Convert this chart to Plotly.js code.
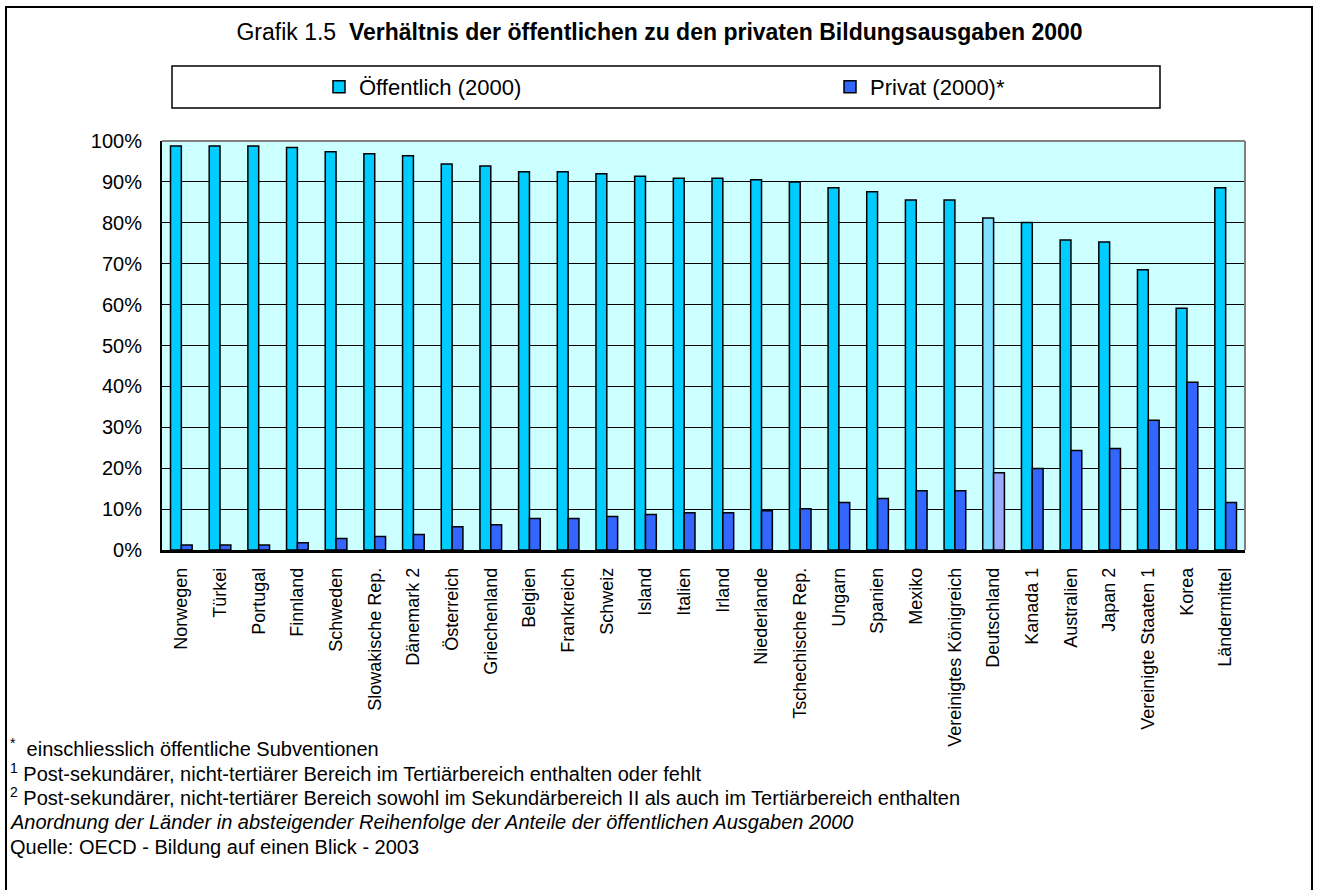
<!DOCTYPE html>
<html>
<head>
<meta charset="utf-8">
<script src="https://cdn.plot.ly/plotly-3.0.1.min.js"></script>
<style>html,body{margin:0;padding:0;background:#fff;}#chart{width:1319px;height:890px;}</style>
</head>
<body>
<div id="chart"></div>
<script>
// ---- Data ----
var countries = ["Norwegen","Türkei","Portugal","Finnland","Schweden","Slowakische Rep.","Dänemark 2","Österreich","Griechenland","Belgien","Frankreich","Schweiz","Island","Italien","Irland","Niederlande","Tschechische Rep.","Ungarn","Spanien","Mexiko","Vereinigtes Königreich","Deutschland","Kanada 1","Australien","Japan 2","Vereinigte Staaten 1","Korea","Ländermittel"];
var oeffentlich = [98.8,98.8,98.8,98.4,97.4,96.9,96.4,94.4,93.9,92.5,92.5,92.0,91.4,90.9,90.9,90.5,90.0,88.6,87.6,85.6,85.6,81.2,80.1,75.8,75.3,68.5,59.1,88.6];
var privat = [1.2,1.2,1.2,1.8,2.8,3.3,3.8,5.7,6.2,7.7,7.7,8.2,8.7,9.1,9.1,9.6,10.1,11.6,12.6,14.5,14.5,18.9,19.9,24.3,24.8,31.7,41.0,11.6];
var seriesNames = ["Öffentlich (2000)", "Privat (2000)*"];
var yTickVals = [0,0.1,0.2,0.3,0.4,0.5,0.6,0.7,0.8,0.9,1.0];
var highlight = "Deutschland";
var titleText = "Grafik 1.5&nbsp; <b>Verhältnis der öffentlichen zu den privaten Bildungsausgaben 2000</b>";
var footnotes = [
  "<sup>*</sup>&nbsp; einschliesslich öffentliche Subventionen",
  "<sup>1</sup> Post-sekundärer, nicht-tertiärer Bereich im Tertiärbereich enthalten oder fehlt",
  "<sup>2</sup> Post-sekundärer, nicht-tertiärer Bereich sowohl im Sekundärbereich II als auch im Tertiärbereich enthalten",
  "<i>Anordnung der Länder in absteigender Reihenfolge der Anteile der öffentlichen Ausgaben 2000</i>",
  "Quelle: OECD - Bildung auf einen Blick - 2003"
];

// ---- Styling ----
var FONT = "Liberation Sans, Arial, sans-serif";
var W = 1319, H = 890;
var L = 162, R = 74, T = 141, B = 340;
var PW = W - L - R, PH = H - T - B;
function px2x(p){ return (p - L) / PW; }
function py2y(p){ return (H - B - p) / PH; }

var pubColors = countries.map(function(c){ return c === highlight ? "#80E0FF" : "#00CCFF"; });
var privColors = countries.map(function(c){ return c === highlight ? "#99AAFF" : "#3366FF"; });

var traces = [
  {
    type: "bar", name: seriesNames[0], x: countries,
    y: oeffentlich.map(function(v){ return v/100; }),
    marker: { color: pubColors, line: { color: "#000", width: 1.5 } },
    legend: "legend", hoverinfo: "x+y"
  },
  {
    type: "bar", name: seriesNames[1], x: countries,
    y: privat.map(function(v){ return v/100; }),
    marker: { color: privColors, line: { color: "#000", width: 1.5 } },
    legend: "legend2", hoverinfo: "x+y"
  }
];

var annotations = footnotes.map(function(t, i){
  return {
    xref: "paper", yref: "paper", x: px2x(8), y: py2y(747 + i*25),
    xanchor: "left", yanchor: "middle", showarrow: false, align: "left",
    text: t, font: { family: FONT, size: 20, color: "#000" }
  };
});

var shapes = [
  // outer frame
  { type: "rect", xref: "paper", yref: "paper", x0: px2x(6), x1: px2x(1312), y0: py2y(900), y1: py2y(7),
    line: { color: "#000", width: 2 }, fillcolor: "rgba(0,0,0,0)", layer: "below" },
  // legend box
  { type: "rect", xref: "paper", yref: "paper", x0: px2x(172), x1: px2x(1160), y0: py2y(108), y1: py2y(66),
    line: { color: "#000", width: 1.5 }, fillcolor: "#fff", layer: "below" },
  // plot area top & right border (gray)
  { type: "line", xref: "paper", yref: "paper", x0: 0, x1: 1, y0: 1, y1: 1, line: { color: "#808080", width: 2 }, layer: "above" },
  { type: "line", xref: "paper", yref: "paper", x0: 1, x1: 1, y0: 0, y1: 1, line: { color: "#808080", width: 2 }, layer: "above" }
];

var layout = {
  width: W, height: H,
  margin: { l: L, r: R, t: T, b: B, pad: 0 },
  paper_bgcolor: "#fff", plot_bgcolor: "#CCFFFF",
  font: { family: FONT, color: "#000" },
  title: { text: titleText, font: { family: FONT, size: 23, color: "#000" },
           xref: "container", x: 0.5, xanchor: "center", yref: "container", y: 1 - 32/H, yanchor: "middle" },
  barmode: "group", bargap: 0.44, bargroupgap: 0,
  xaxis: {
    type: "category", tickangle: -90, tickfont: { family: FONT, size: 18, color: "#000" },
    showline: true, linecolor: "#000", linewidth: 2.5, ticks: "", showgrid: false,
    ticklabelstandoff: 8, automargin: false, fixedrange: true
  },
  yaxis: {
    range: [0, 1], tickvals: yTickVals, tickformat: ".0%",
    tickfont: { family: FONT, size: 20, color: "#000" },
    showline: true, linecolor: "#000", linewidth: 2, ticks: "",
    showgrid: true, gridcolor: "#000", gridwidth: 1, zeroline: false,
    ticklabelstandoff: 14, automargin: false, fixedrange: true
  },
  showlegend: true,
  legend: { orientation: "h", xref: "paper", yref: "paper", x: px2x(319), y: py2y(87), xanchor: "left", yanchor: "middle",
            bgcolor: "rgba(0,0,0,0)", borderwidth: 0, font: { family: FONT, size: 22, color: "#000" } },
  legend2: { orientation: "h", xref: "paper", yref: "paper", x: px2x(830), y: py2y(87), xanchor: "left", yanchor: "middle",
            bgcolor: "rgba(0,0,0,0)", borderwidth: 0, font: { family: FONT, size: 22, color: "#000" } },
  annotations: annotations,
  shapes: shapes
};

Plotly.newPlot("chart", traces, layout, { displayModeBar: false, staticPlot: true });
</script>
</body>
</html>
